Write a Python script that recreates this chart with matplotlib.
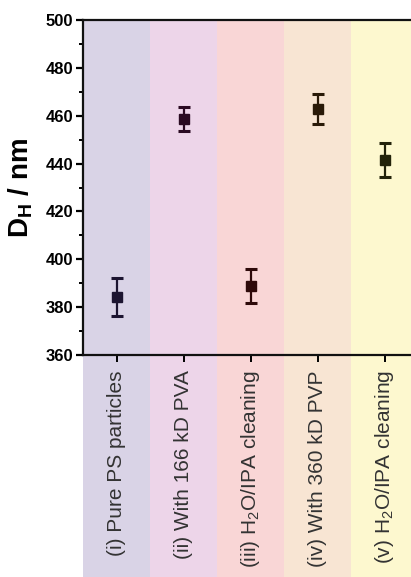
import matplotlib
matplotlib.use("Agg")
import matplotlib.pyplot as plt
from matplotlib.patches import Rectangle
from matplotlib.transforms import blended_transform_factory
from matplotlib.ticker import MultipleLocator

plt.rcParams['font.family'] = ['Liberation Sans', 'DejaVu Sans']
plt.rcParams['mathtext.fontset'] = 'custom'
plt.rcParams['mathtext.rm'] = 'Liberation Sans'
plt.rcParams['mathtext.it'] = 'Liberation Sans:italic'
plt.rcParams['mathtext.bf'] = 'Liberation Sans:bold'

# Data
labels = ["(i) Pure PS particles",
          "(ii) With 166 kD PVA",
          "(iii) H$_2$O/IPA cleaning",
          "(iv) With 360 kD PVP",
          "(v) H$_2$O/IPA cleaning"]
dh_mean = [384.3, 458.6, 388.9, 462.9, 441.5]
dh_err = [7.8, 5.1, 7.0, 6.2, 7.3]
band_colors = ["#d9d3e6", "#edd5e9", "#f9d6d6", "#f8e5d3", "#fdf8cf"]
marker_colors = ["#1c1430", "#2a0a22", "#2e0a0a", "#2a1a08", "#23230a"]

W, H = 411, 577
fig = plt.figure(figsize=(W / 100, H / 100), dpi=100)
ax = fig.add_axes([83 / W, (H - 355) / H, (418 - 83) / W, 335 / H])

x = list(range(1, len(labels) + 1))

# background bands, running down behind the category labels
trans = blended_transform_factory(ax.transData, fig.transFigure)
top = (H - 20) / H
for xi, c in zip(x, band_colors):
    fig.patches.append(Rectangle((xi - 0.5, 0), 1.0, top, transform=trans,
                                 facecolor=c, edgecolor='none', zorder=-10))
ax.patch.set_alpha(0)

for xi, m, e, mc in zip(x, dh_mean, dh_err, marker_colors):
    ax.errorbar(xi, m, yerr=e, fmt='s', color=mc, ms=7, elinewidth=1.6,
                capsize=4, capthick=2.2)

ax.set_xlim(0.5, 5.5)
ax.set_ylim(360, 500)
ax.yaxis.set_major_locator(MultipleLocator(20))
ax.yaxis.set_minor_locator(MultipleLocator(10))
ax.set_xticks(x)
ax.set_xticklabels(labels, rotation=90, fontsize=15, color='#333333')

ax.spines['right'].set_visible(False)
for s in ['left', 'bottom', 'top']:
    ax.spines[s].set_linewidth(1.6)
    ax.spines[s].set_color('#111111')

ax.tick_params(axis='y', which='major', direction='out', length=5, width=1.6,
               labelsize=12, pad=2)
ax.tick_params(axis='y', which='minor', direction='out', length=3, width=1.4)
ax.tick_params(axis='x', direction='out', length=5, width=1.4, pad=6)
for t in ax.get_yticklabels():
    t.set_fontweight('bold')

ax.set_ylabel(r"$\mathbf{D_H}$ / nm", fontsize=20, fontweight='bold', labelpad=8)

fig.savefig("out.png", dpi=100)
